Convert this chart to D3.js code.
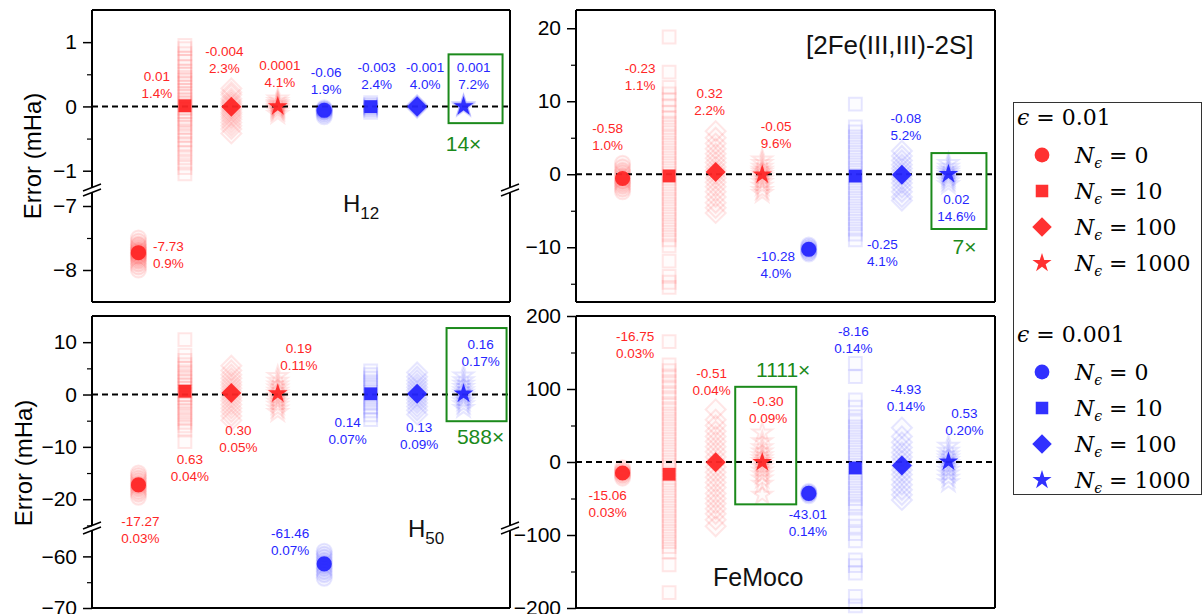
<!DOCTYPE html>
<html>
<head>
<meta charset="utf-8">
<script src="https://cdn.jsdelivr.net/npm/d3@7"></script>
<style>
  body { margin: 0; background: #fff; }
  svg { display: block; }
  text { font-family: "Liberation Sans", Arial, sans-serif; }
  .serif { font-family: "DejaVu Serif", "Liberation Serif", serif; }
</style>
</head>
<body>
<div id="chart"></div>
<script>
var width = 1203,
    height = 614;

var red = "#ff2626", blue = "#2626ff", green = "#1b8a1b";

// categories, same order in every panel
var categories = ["e0.01 N0", "e0.01 N10", "e0.01 N100", "e0.01 N1000",
                  "e0.001 N0", "e0.001 N10", "e0.001 N100", "e0.001 N1000"];
var legendGroups = ["0.01", "0.001"];
var legendN = ["0", "10", "100", "1000"];

// H12
var h12Mean = [-7.73, 0.01, -0.004, 0.0001, -0.06, -0.003, -0.001, 0.001];
var h12Text = ["-7.73", "0.01", "-0.004", "0.0001", "-0.06", "-0.003", "-0.001", "0.001"];
var h12Pct = ["0.9%", "1.4%", "2.3%", "4.1%", "1.9%", "2.4%", "4.0%", "7.2%"];
var h12Samples = [
  [-7.5, -7.55, -7.6, -7.62, -7.65, -7.68, -7.7, -7.72, -7.74, -7.76, -7.78, -7.8, -7.83, -7.86, -7.9, -7.95, -8.0],
  [0.95, 0.9, 0.82, 0.75, 0.7, 0.62, 0.55, 0.5, 0.45, 0.4, 0.36, 0.3, 0.25, 0.2, 0.15, 0.1, 0.06, 0.02, -0.03, -0.08,
   -0.12, -0.18, -0.22, -0.28, -0.33, -0.4, -0.45, -0.52, -0.58, -0.65, -0.72, -0.8, -0.88, -0.95, -1.05],
  [0.28, 0.22, 0.18, 0.12, 0.08, 0.05, 0.02, -0.02, -0.05, -0.09, -0.12, -0.16, -0.2, -0.25, -0.3, -0.35, -0.42],
  [0.12, 0.08, 0.05, 0.03, 0.01, -0.01, -0.03, -0.05, -0.08, -0.12],
  [-0.02, -0.04, -0.05, -0.06, -0.07, -0.08, -0.1, -0.13, -0.16],
  [0.06, 0.03, 0.01, -0.01, -0.02, -0.04, -0.06, -0.09],
  [0.02, 0.01, 0, -0.01, -0.02],
  [0.02, 0.01, 0, -0.01]
];

// [2Fe(III,III)-2S]
var fe2Mean = [-0.58, -0.23, 0.32, -0.05, -10.28, -0.25, -0.08, 0.02];
var fe2Text = ["-0.58", "-0.23", "0.32", "-0.05", "-10.28", "-0.25", "-0.08", "0.02"];
var fe2Pct = ["1.0%", "1.1%", "2.2%", "9.6%", "4.0%", "4.1%", "5.2%", "14.6%"];
var fe2Samples = [
  [1.5, 1.0, 0.5, 0.2, -0.2, -0.5, -0.8, -1.0, -1.3, -1.6, -2.0, -2.4],
  [18.8, 14.0, 11.9, 11.0, 10.2, 9.4, 8.5, 7.8, 7.0, 6.4, 5.7, 5.0, 4.3, 3.6, 2.9, 2.2, 1.5, 0.8, 0.1, -0.6,
   -1.3, -2.0, -2.7, -3.4, -4.1, -4.8, -5.5, -6.2, -6.9, -7.6, -8.3, -9.0, -9.8, -11.9, -14.0, -14.8, -15.5],
  [5.9, 5.0, 4.2, 3.5, 2.8, 2.2, 1.6, 1.0, 0.5, 0, -0.5, -1.1, -1.7, -2.4, -3.1, -3.9, -4.6, -5.3],
  [2.0, 1.5, 1.0, 0.6, 0.3, 0, -0.3, -0.7, -1.1, -1.6, -2.2, -2.6],
  [-9.7, -9.9, -10.1, -10.3, -10.5, -10.7, -10.9],
  [9.6, 6.5, 5.8, 5.1, 4.4, 3.7, 3.0, 2.3, 1.6, 0.9, 0.2, -0.5, -1.2, -1.9, -2.6, -3.3, -4.0, -4.7, -5.4,
   -6.1, -6.8, -7.5, -8.2, -9.0],
  [3.2, 2.5, 1.9, 1.3, 0.8, 0.3, -0.2, -0.7, -1.2, -1.8, -2.4, -3.1, -3.6],
  [1.5, 1.0, 0.6, 0.3, 0, -0.3, -0.6, -1.0, -1.4]
];

// H50
var h50Mean = [-17.27, 0.63, 0.30, 0.19, -61.46, 0.14, 0.13, 0.16];
var h50Text = ["-17.27", "0.63", "0.30", "0.19", "-61.46", "0.14", "0.13", "0.16"];
var h50Pct = ["0.03%", "0.04%", "0.05%", "0.11%", "0.07%", "0.07%", "0.09%", "0.17%"];
var h50Samples = [
  [-15.0, -15.5, -16, -16.5, -17, -17.3, -17.6, -18, -18.5, -19, -19.6],
  [10.5, 7.5, 6.5, 5.7, 5.0, 4.3, 3.6, 3.0, 2.4, 1.8, 1.2, 0.6, 0, -0.6, -1.2, -1.8, -2.5, -3.2, -3.9, -4.6,
   -5.3, -6.0, -6.8, -9.0],
  [5.5, 4.6, 3.8, 3.1, 2.4, 1.8, 1.2, 0.6, 0, -0.6, -1.2, -1.9, -2.6, -3.3, -4.1, -4.9],
  [3.5, 2.6, 1.9, 1.3, 0.7, 0.2, -0.3, -0.8, -1.4, -2.0, -2.7, -3.4],
  [-59.0, -59.6, -60.2, -60.8, -61.3, -61.8, -62.3, -62.9, -63.5, -64.2],
  [4.5, 3.8, 3.1, 2.4, 1.7, 1.0, 0.4, -0.3, -1.0, -1.7, -2.4, -3.1, -3.9, -4.8],
  [4.2, 3.4, 2.7, 2.0, 1.4, 0.8, 0.2, -0.4, -1.0, -1.6, -2.3, -3.0, -3.8],
  [3.6, 2.7, 2.0, 1.4, 0.8, 0.3, -0.2, -0.7, -1.3, -1.9, -2.6]
];

// FeMoco
var femMean = [-15.06, -16.75, -0.51, -0.30, -43.01, -8.16, -4.93, 0.53];
var femText = ["-15.06", "-16.75", "-0.51", "-0.30", "-43.01", "-8.16", "-4.93", "0.53"];
var femPct = ["0.03%", "0.03%", "0.04%", "0.09%", "0.14%", "0.14%", "0.14%", "0.20%"];
var femSamples = [
  [-8, -11, -13, -15, -17, -19, -22],
  [165, 133, 125, 118, 110, 103, 95, 88, 80, 73, 66, 59, 52, 45, 38, 31, 24, 17, 10, 3, -4, -11, -18, -25,
   -32, -39, -46, -53, -60, -67, -74, -81, -88, -95, -102, -109, -116, -123, -141, -179],
  [72, 58, 50, 42, 35, 28, 21, 14, 7, 0, -7, -14, -21, -28, -35, -43, -50, -57, -64, -71, -79, -88],
  [40, 28, 20, 14, 9, 5, 1, -3, -7, -12, -17, -23, -30, -45],
  [-40, -42, -43, -44, -46],
  [135, 117, 85, 75, 62, 55, 48, 41, 34, 27, 20, 13, 6, -1, -8, -15, -22, -29, -36, -43, -50, -57, -63,
   -78, -88, -98, -108, -134, -142, -152, -184, -197],
  [47, 35, 27, 20, 13, 7, 1, -5, -11, -17, -24, -31, -38, -45, -52],
  [22, 15, 10, 6, 2, -2, -6, -11, -16, -22, -28]
];

// ---- layout / style (not data) ----
var shapes = ["circle", "square", "diamond", "star", "circle", "square", "diamond", "star"];
var catColor = [red, red, red, red, blue, blue, blue, blue];
var markerSize = { circle: 180, square: 165, diamond: 200, star: 120 };

var panels = [
  { left: 92, right: 510, top: 10, bottom: 302,
    mean: h12Mean, text: h12Text, pct: h12Pct, samples: h12Samples,
    segs: [ { domain: [-1.3, 1.5], y0: 10, y1: 190, major: [-1, 0, 1], minor: [-0.5, 0.5] },
            { domain: [-8.5, -6.75], y0: 190, y1: 302, major: [-8, -7], minor: [-7.5] } ],
    labelPos: [[30, -7.62], [-28, 0.48], [-7, 0.86], [2, 0.65], [2, 0.54], [6, 0.62], [8, 0.62], [10, 0.61]],
    box: { cat: 7, dx0: -15, dx1: 39, v0: 0.81, v1: -0.26 }, mult: "14\u00d7", multPos: [0, -0.58],
    title: { main: "H", sub: "12", x: 343, y: 212, size: 24 }, ylabel: { x: 41, y: 156 } },
  { left: 576, right: 995, top: 10, bottom: 302,
    mean: fe2Mean, text: fe2Text, pct: fe2Pct, samples: fe2Samples,
    segs: [ { domain: [-17.5, 22.5], y0: 10, y1: 302, major: [-10, 0, 10, 20], minor: [-15, -5, 5, 15] } ],
    labelPos: [[-15, 6.4], [-29, 14.5], [-6, 11.1], [14, 6.6], [-33, -11.2], [27, -9.6], [4, 7.7], [8, -3.4]],
    box: { cat: 7, dx0: -17, dx1: 38, v0: 2.9, v1: -7.5 }, mult: "7\u00d7", multPos: [16, -9.9],
    title: { main: "[2Fe(III,III)-2S]", x: 806, y: 54, size: 26 } },
  { left: 92, right: 510, top: 316, bottom: 608,
    mean: h50Mean, text: h50Text, pct: h50Pct, samples: h50Samples,
    segs: [ { domain: [-25.5, 15], y0: 316, y1: 528, major: [-20, -10, 0, 10], minor: [-25, -15, -5, 5] },
            { domain: [-70, -54.5], y0: 528, y1: 608, major: [-70, -60], minor: [-65] } ],
    labelPos: [[2, -24.2], [5, -12.4], [7, -6.8], [21, 8.9], [-34, -55.4], [-23, -5.3], [2, -6.25], [17, 9.6]],
    box: { cat: 7, dx0: -17, dx1: 43, v0: 12.7, v1: -5.1 }, mult: "588\u00d7", multPos: [17, -8.2],
    title: { main: "H", sub: "50", x: 408, y: 537, size: 24 }, ylabel: { x: 32, y: 463 } },
  { left: 576, right: 995, top: 316, bottom: 608,
    mean: femMean, text: femText, pct: femPct, samples: femSamples,
    segs: [ { domain: [-200, 200], y0: 316, y1: 608, major: [-200, -100, 0, 100, 200], minor: [-150, -50, 50, 150] } ],
    labelPos: [[-15, -44.8], [-34, 173], [-4, 122], [6, 84], [-1, -70.8], [-2, 180], [4, 100], [16, 67.5]],
    box: { cat: 3, dx0: -27, dx1: 34, v0: 103, v1: -58 }, mult: "1111\u00d7", multPos: [21, 126],
    title: { main: "FeMoco", x: 713, y: 586, size: 25 } }
];

var svg = d3.select("#chart").append("svg")
    .attr("width", width)
    .attr("height", height);

function symbolPath(shape, scale) {
  var t = { circle: d3.symbolCircle, square: d3.symbolSquare, diamond: d3.symbolSquare, star: d3.symbolStar }[shape];
  return d3.symbol().type(t).size(markerSize[shape] * (scale || 1))();
}

function markerTransform(shape, x, y) {
  return "translate(" + x + "," + y + ")" + (shape === "diamond" ? " rotate(45)" : "");
}

function makeY(p) {
  var scales = p.segs.map(function(s) {
    return d3.scaleLinear().domain(s.domain).range([s.y1, s.y0]);
  });
  return function(v) {
    for (var i = 0; i < p.segs.length; i++) {
      var d = p.segs[i].domain;
      if (v >= d[0] && v <= d[1]) return scales[i](v);
    }
    return scales[0](v);
  };
}

panels.forEach(function(p) {
  var x = d3.scaleLinear().domain([-1, categories.length]).range([p.left, p.right]);
  var y = makeY(p);
  var g = svg.append("g");

  // faint samples
  p.samples.forEach(function(vals, i) {
    g.append("g").selectAll("path")
      .data(vals)
      .enter().append("path")
      .attr("d", symbolPath(shapes[i]))
      .attr("transform", function(v) { return markerTransform(shapes[i], x(i), y(v)); })
      .attr("fill", catColor[i])
      .attr("fill-opacity", shapes[i] === "circle" ? 0.05 : 0.015)
      .attr("stroke", catColor[i])
      .attr("stroke-opacity", 0.11)
      .attr("stroke-width", 2);
  });

  // zero line
  var ySeg0 = d3.scaleLinear().domain(p.segs[0].domain).range([p.segs[0].y1, p.segs[0].y0]);
  g.append("line")
    .attr("x1", p.left).attr("x2", p.right)
    .attr("y1", ySeg0(0)).attr("y2", ySeg0(0))
    .attr("stroke", "#000")
    .attr("stroke-width", 2)
    .attr("stroke-dasharray", "6,4");

  // mean markers
  g.append("g").selectAll("path")
    .data(p.mean)
    .enter().append("path")
    .attr("d", function(v, i) { return symbolPath(shapes[i]); })
    .attr("transform", function(v, i) { return markerTransform(shapes[i], x(i), y(v)); })
    .attr("fill", function(v, i) { return catColor[i]; })
    .attr("fill-opacity", 0.95);

  // annotations
  p.text.forEach(function(t, i) {
    var lp = p.labelPos[i];
    var tx = g.append("text")
      .attr("x", x(i) + lp[0])
      .attr("y", y(lp[1]) + 5)
      .attr("text-anchor", "middle")
      .attr("font-size", 13.5)
      .attr("fill", catColor[i]);
    tx.append("tspan").attr("x", x(i) + lp[0]).text(t);
    tx.append("tspan").attr("x", x(i) + lp[0]).attr("dy", 17).text(p.pct[i]);
  });

  // highlight box
  var b = p.box;
  g.append("rect")
    .attr("x", x(b.cat) + b.dx0)
    .attr("y", y(b.v0))
    .attr("width", b.dx1 - b.dx0)
    .attr("height", y(b.v1) - y(b.v0))
    .attr("fill", "none")
    .attr("stroke", green)
    .attr("stroke-width", 2);
  g.append("text")
    .attr("x", x(b.cat) + p.multPos[0])
    .attr("y", y(p.multPos[1]) + 7)
    .attr("text-anchor", "middle")
    .attr("font-size", 21)
    .attr("fill", green)
    .text(p.mult);

  // title
  var tt = g.append("text")
    .attr("x", p.title.x).attr("y", p.title.y)
    .attr("font-size", p.title.size)
    .attr("fill", "#111")
    .text(p.title.main);
  if (p.title.sub) {
    tt.append("tspan").attr("dy", 7).attr("font-size", 17).text(p.title.sub);
  }

  // axes for each segment
  p.segs.forEach(function(s) {
    var sc = d3.scaleLinear().domain(s.domain).range([s.y1, s.y0]);
    var ax = g.append("g")
      .attr("transform", "translate(" + p.left + ",0)")
      .call(d3.axisLeft(sc).tickValues(s.major).tickSize(9).tickPadding(6).tickFormat(d3.format("d")));
    ax.select(".domain").remove();
    ax.selectAll("line").attr("stroke-width", 1.5);
    ax.selectAll("text").attr("font-size", 21).attr("fill", "#000")
      .style("font-family", "'Liberation Sans', Arial, sans-serif");
    var mi = g.append("g")
      .attr("transform", "translate(" + p.left + ",0)")
      .call(d3.axisLeft(sc).tickValues(s.minor).tickSize(5).tickFormat(""));
    mi.select(".domain").remove();
    mi.selectAll("line").attr("stroke-width", 1.2);
  });

  // frame (with break)
  var frame = g.append("g").attr("stroke", "#000").attr("stroke-width", 2).attr("fill", "none");
  frame.append("line").attr("x1", p.left).attr("x2", p.right).attr("y1", p.top).attr("y2", p.top);
  frame.append("line").attr("x1", p.left).attr("x2", p.right).attr("y1", p.bottom).attr("y2", p.bottom);
  var gap = p.segs.length > 1 ? 2.5 : 0;
  p.segs.forEach(function(s, k) {
    var ya = s.y0 + (k > 0 ? gap : 0), yb = s.y1 - (k < p.segs.length - 1 ? gap : 0);
    [p.left, p.right].forEach(function(xx) {
      frame.append("line").attr("x1", xx).attr("x2", xx).attr("y1", ya).attr("y2", yb);
    });
  });
  if (p.segs.length > 1) {
    var yb = p.segs[0].y1;
    [p.left, p.right].forEach(function(xx) {
      [-gap, gap].forEach(function(o) {
        frame.append("line")
          .attr("stroke-width", 1.5)
          .attr("x1", xx - 9).attr("y1", yb + o + 3.5)
          .attr("x2", xx + 9).attr("y2", yb + o - 3.5);
      });
    });
  }

  // y label
  if (p.ylabel) {
    svg.append("text")
      .attr("transform", "translate(" + p.ylabel.x + "," + p.ylabel.y + ") rotate(-90)")
      .attr("text-anchor", "middle")
      .attr("font-size", 24)
      .attr("fill", "#000")
      .text("Error (mHa)");
  }
});

// legend
var lg = svg.append("g");
lg.append("rect")
  .attr("x", 1013.5).attr("y", 102.5)
  .attr("width", 188).attr("height", 392)
  .attr("fill", "#fff")
  .attr("stroke", "#333")
  .attr("stroke-width", 1);

var groupTop = [125, 342];
legendGroups.forEach(function(eps, gi) {
  var col = gi === 0 ? red : blue;
  var h = lg.append("text").attr("class", "serif")
    .attr("x", 1017).attr("y", groupTop[gi])
    .attr("font-size", 22).attr("fill", "#000");
  h.append("tspan").attr("font-style", "italic").text("\u03f5");
  h.append("tspan").text(" = " + eps);

  legendN.forEach(function(n, k) {
    var ry = groupTop[gi] + 30 + k * 36;
    var sh = shapes[k];
    lg.append("path")
      .attr("d", symbolPath(sh, 0.95))
      .attr("transform", markerTransform(sh, 1042, ry))
      .attr("fill", col)
      .attr("fill-opacity", 0.95);
    var t = lg.append("text").attr("class", "serif")
      .attr("x", 1075).attr("y", ry + 8)
      .attr("font-size", 22).attr("fill", "#000");
    t.append("tspan").attr("font-style", "italic").text("N");
    t.append("tspan").attr("font-style", "italic").attr("font-size", 14).attr("dy", 5).text("\u03f5");
    t.append("tspan").attr("dy", -5).text(" = " + n);
  });
});
</script>
</body>
</html>
